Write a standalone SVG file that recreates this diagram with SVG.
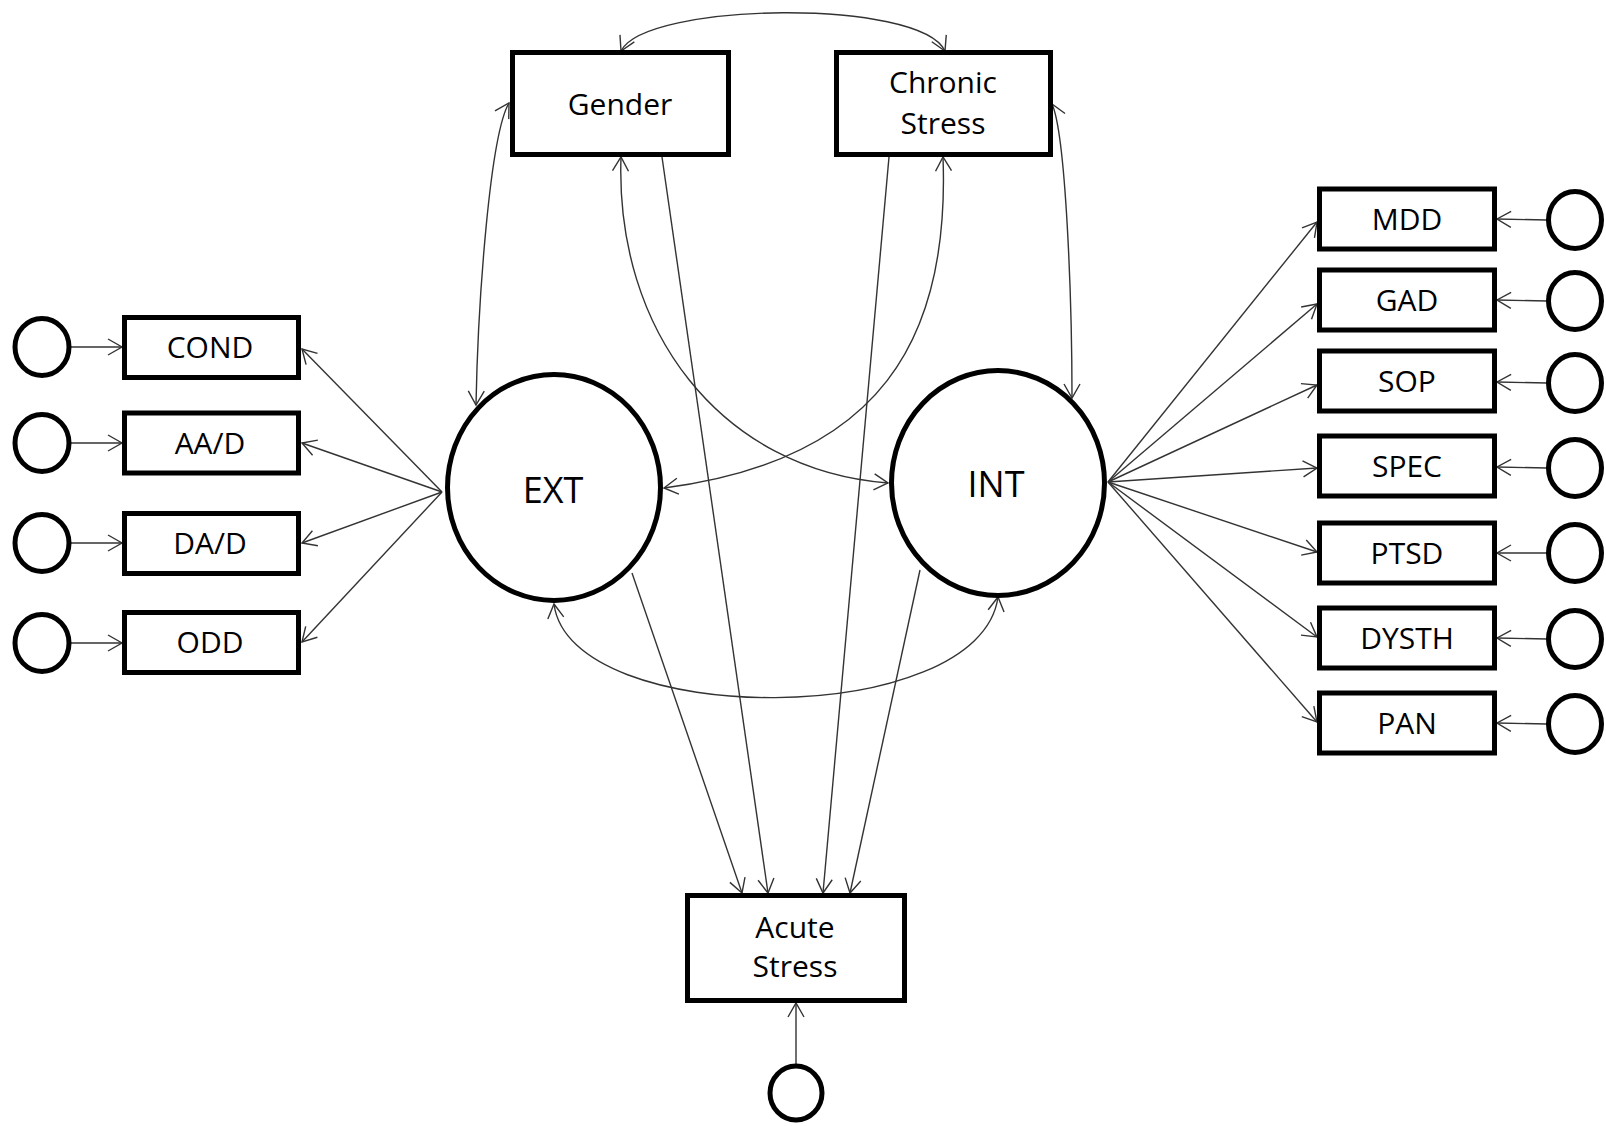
<svg xmlns="http://www.w3.org/2000/svg" width="1606" height="1126" viewBox="0 0 1606 1126">
<style>
.box{fill:#fff;stroke:#000;stroke-width:5}
.lat{fill:#fff;stroke:#000;stroke-width:5}
.err{fill:#fff;stroke:#000;stroke-width:5}
.lbl{font-family:"Open Sans","Noto Sans",sans-serif;font-size:30px;fill:#000;text-anchor:middle}
.big{font-family:"Open Sans","Noto Sans",sans-serif;font-size:36px;fill:#000;text-anchor:middle}
.c{fill:none;stroke:#333;stroke-width:1.4}
</style>
<defs>
<marker id="ah" markerUnits="userSpaceOnUse" markerWidth="18" markerHeight="20" viewBox="0 0 18 20" refX="16" refY="10" orient="auto-start-reverse">
<path d="M2,2 L16,10 L2,18" fill="none" stroke="#333" stroke-width="1.4"/>
</marker>
</defs>
<rect width="1606" height="1126" fill="#fff"/>
<g id="connectors">
<path class="c" d="M621,51 C645,2 920,-2 945,51" marker-start="url(#ah)" marker-end="url(#ah)"/>
<path class="c" d="M509,103 C490,135 478,300 476,405" marker-start="url(#ah)" marker-end="url(#ah)"/>
<path class="c" d="M1052,104 C1066,135 1072,300 1072,398" marker-start="url(#ah)" marker-end="url(#ah)"/>
<path class="c" d="M621,157 C615,330 720,470 888,483" marker-start="url(#ah)" marker-end="url(#ah)"/>
<path class="c" d="M943,157 C950,340 880,460 664,488" marker-start="url(#ah)" marker-end="url(#ah)"/>
<path class="c" d="M554,604 C570,730 980,730 998,597" marker-start="url(#ah)" marker-end="url(#ah)"/>
<line class="c" x1="632" y1="573" x2="742" y2="893" marker-end="url(#ah)"/>
<line class="c" x1="662" y1="157" x2="768" y2="893" marker-end="url(#ah)"/>
<line class="c" x1="889" y1="157" x2="823" y2="893" marker-end="url(#ah)"/>
<line class="c" x1="920" y1="570" x2="850" y2="893" marker-end="url(#ah)"/>
<line class="c" x1="796" y1="1065" x2="796" y2="1003" marker-end="url(#ah)"/>
<line class="c" x1="442" y1="492" x2="302" y2="349" marker-end="url(#ah)"/>
<line class="c" x1="442" y1="492" x2="302" y2="443" marker-end="url(#ah)"/>
<line class="c" x1="442" y1="492" x2="302" y2="543" marker-end="url(#ah)"/>
<line class="c" x1="442" y1="492" x2="302" y2="642" marker-end="url(#ah)"/>
<line class="c" x1="70" y1="347" x2="122" y2="347" marker-end="url(#ah)"/>
<line class="c" x1="70" y1="443" x2="122" y2="443" marker-end="url(#ah)"/>
<line class="c" x1="70" y1="543" x2="122" y2="543" marker-end="url(#ah)"/>
<line class="c" x1="70" y1="643" x2="122" y2="643" marker-end="url(#ah)"/>
<line class="c" x1="1108" y1="482" x2="1317" y2="222" marker-end="url(#ah)"/>
<line class="c" x1="1108" y1="482" x2="1317" y2="304" marker-end="url(#ah)"/>
<line class="c" x1="1108" y1="482" x2="1317" y2="385" marker-end="url(#ah)"/>
<line class="c" x1="1108" y1="482" x2="1317" y2="468" marker-end="url(#ah)"/>
<line class="c" x1="1108" y1="482" x2="1317" y2="552" marker-end="url(#ah)"/>
<line class="c" x1="1108" y1="482" x2="1317" y2="637" marker-end="url(#ah)"/>
<line class="c" x1="1108" y1="482" x2="1317" y2="722" marker-end="url(#ah)"/>
<line class="c" x1="1547" y1="220" x2="1497" y2="219" marker-end="url(#ah)"/>
<line class="c" x1="1547" y1="301" x2="1497" y2="300" marker-end="url(#ah)"/>
<line class="c" x1="1547" y1="383" x2="1497" y2="382" marker-end="url(#ah)"/>
<line class="c" x1="1547" y1="468" x2="1497" y2="467" marker-end="url(#ah)"/>
<line class="c" x1="1547" y1="553" x2="1497" y2="553" marker-end="url(#ah)"/>
<line class="c" x1="1547" y1="639" x2="1497" y2="638" marker-end="url(#ah)"/>
<line class="c" x1="1547" y1="724" x2="1497" y2="723" marker-end="url(#ah)"/>
</g>
<g id="gender"><rect class="box" x="512.5" y="52.5" width="216" height="102"/><text class="lbl" x="620" y="115">Gender</text></g>
<g id="chronic"><rect class="box" x="836.5" y="52.5" width="214" height="102"/><text class="lbl" x="943" y="93">Chronic</text><text class="lbl" x="943" y="134">Stress</text></g>
<g id="acute"><rect class="box" x="687.5" y="895.5" width="217" height="105"/><text class="lbl" x="795" y="938">Acute</text><text class="lbl" x="795" y="977">Stress</text></g>
<g id="acute-err"><ellipse class="err" cx="796" cy="1093" rx="26" ry="27"/></g>
<g id="ext"><ellipse class="lat" cx="554" cy="487.5" rx="106.5" ry="113"/><text class="big" x="553" y="503">EXT</text></g>
<g id="int"><ellipse class="lat" cx="998" cy="483" rx="106.5" ry="112.5"/><text class="big" x="996" y="497">INT</text></g>
<g id="cond"><rect class="box" x="124.5" y="317.5" width="174" height="60"/><text class="lbl" x="210" y="358">COND</text></g>
<g id="aad"><rect class="box" x="124.5" y="413" width="174" height="60"/><text class="lbl" x="210" y="454">AA/D</text></g>
<g id="dad"><rect class="box" x="124.5" y="513.5" width="174" height="60"/><text class="lbl" x="210" y="554">DA/D</text></g>
<g id="odd"><rect class="box" x="124.5" y="612.5" width="174" height="60"/><text class="lbl" x="210" y="653">ODD</text></g>
<g id="e-cond"><ellipse class="err" cx="42" cy="347" rx="27" ry="28.5"/></g>
<g id="e-aad"><ellipse class="err" cx="42" cy="443" rx="27" ry="28.5"/></g>
<g id="e-dad"><ellipse class="err" cx="42" cy="543" rx="27" ry="28.5"/></g>
<g id="e-odd"><ellipse class="err" cx="42" cy="643" rx="27" ry="28.5"/></g>
<g id="mdd"><rect class="box" x="1319.5" y="189" width="175" height="60"/><text class="lbl" x="1407" y="230">MDD</text></g>
<g id="gad"><rect class="box" x="1319.5" y="270" width="175" height="60"/><text class="lbl" x="1407" y="311">GAD</text></g>
<g id="sop"><rect class="box" x="1319.5" y="351" width="175" height="60"/><text class="lbl" x="1407" y="392">SOP</text></g>
<g id="spec"><rect class="box" x="1319.5" y="436" width="175" height="60"/><text class="lbl" x="1407" y="477">SPEC</text></g>
<g id="ptsd"><rect class="box" x="1319.5" y="523" width="175" height="60"/><text class="lbl" x="1407" y="564">PTSD</text></g>
<g id="dysth"><rect class="box" x="1319.5" y="608" width="175" height="60"/><text class="lbl" x="1407" y="649">DYSTH</text></g>
<g id="pan"><rect class="box" x="1319.5" y="693" width="175" height="60"/><text class="lbl" x="1407" y="734">PAN</text></g>
<g id="e-mdd"><ellipse class="err" cx="1575" cy="220" rx="26.5" ry="28.5"/></g>
<g id="e-gad"><ellipse class="err" cx="1575" cy="301" rx="26.5" ry="28.5"/></g>
<g id="e-sop"><ellipse class="err" cx="1575" cy="383" rx="26.5" ry="28.5"/></g>
<g id="e-spec"><ellipse class="err" cx="1575" cy="468" rx="26.5" ry="28.5"/></g>
<g id="e-ptsd"><ellipse class="err" cx="1575" cy="553" rx="26.5" ry="28.5"/></g>
<g id="e-dysth"><ellipse class="err" cx="1575" cy="639" rx="26.5" ry="28.5"/></g>
<g id="e-pan"><ellipse class="err" cx="1575" cy="724" rx="26.5" ry="28.5"/></g>
</svg>
